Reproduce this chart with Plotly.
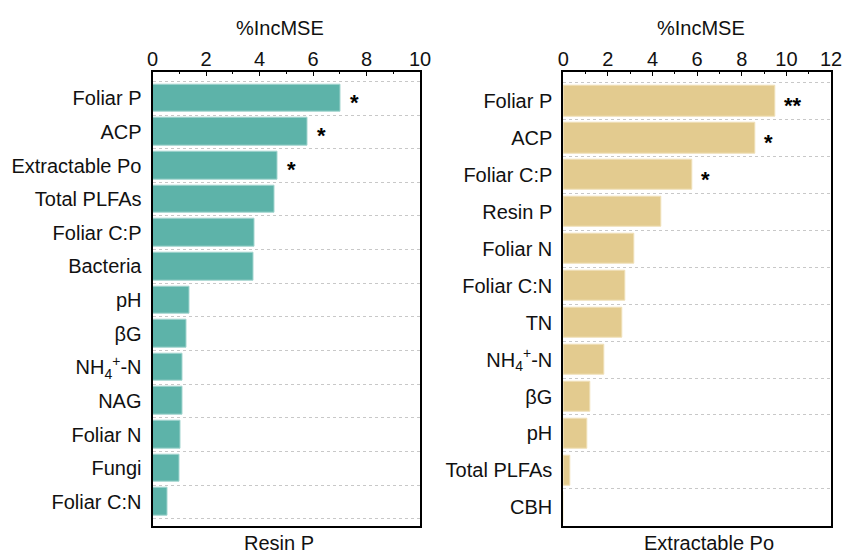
import plotly.graph_objects as go

# Variable importance (%IncMSE) from random forest models
resin_labels = ["Foliar P", "ACP", "Extractable Po", "Total PLFAs", "Foliar C:P",
                "Bacteria", "pH", "βG", "NH<sub>4</sub><sup>+</sup>-N", "NAG",
                "Foliar N", "Fungi", "Foliar C:N"]
resin_values = [7.04, 5.80, 4.69, 4.56, 3.83, 3.77, 1.37, 1.27, 1.12, 1.11, 1.06, 1.02, 0.55]
resin_sig = ["*", "*", "*", "", "", "", "", "", "", "", "", "", ""]

po_labels = ["Foliar P", "ACP", "Foliar C:P", "Resin P", "Foliar N", "Foliar C:N",
             "TN", "NH<sub>4</sub><sup>+</sup>-N", "βG", "pH", "Total PLFAs", "CBH"]
po_values = [9.50, 8.59, 5.78, 4.38, 3.18, 2.77, 2.65, 1.82, 1.21, 1.06, 0.31, 0.0]
po_sig = ["**", "*", "*", "", "", "", "", "", "", "", "", ""]

TEAL = "#5db3a9"
TEAL_EDGE = "#a3d5cf"
TAN = "#e3cb8f"
TAN_EDGE = "#f0e0b8"
FONT = "Liberation Sans, Arial, sans-serif"
FS = 20
W, H = 845, 553

fig = go.Figure()

panels = [
    dict(labels=resin_labels, values=resin_values, sig=resin_sig, color=TEAL, edge=TEAL_EDGE,
         xa="x", ya="y", xmax=10, yrange=[12.71, -0.79], name="Resin P",
         dom=[152.5, 420.0], title_x=280, name_x=279),
    dict(labels=po_labels, values=po_values, sig=po_sig, color=TAN, edge=TAN_EDGE,
         xa="x2", ya="y2", xmax=12, yrange=[11.5, -0.8], name="Extractable Po",
         dom=[563.3, 831.0], title_x=700.5, name_x=709),
]

annotations = []
top_px, bottom_px = 71.7, 525.7

for i, p in enumerate(panels):
    n = len(p["labels"])
    pos = list(range(n))
    fig.add_trace(go.Bar(
        x=p["values"], y=pos, orientation="h", width=0.82,
        marker=dict(color=p["color"], line=dict(color=p["edge"], width=1)),
        xaxis=p["xa"], yaxis=p["ya"], showlegend=False, hoverinfo="x+y",
    ))
    suffix = "" if i == 0 else "2"
    xdom = [p["dom"][0] / W, p["dom"][1] / W]
    ydom = [1 - bottom_px / H, 1 - top_px / H]
    fig.layout["xaxis" + suffix] = dict(
        domain=xdom, anchor="y" + suffix, side="top", range=[0, p["xmax"]],
        dtick=2, tick0=0, ticks="inside", ticklen=4, tickwidth=1.3, tickcolor="#000",
        minor=dict(dtick=1, ticks="inside", ticklen=2, tickwidth=1.3, tickcolor="#000"),
        showline=True, linecolor="#000", linewidth=2, mirror=True,
        showgrid=False, zeroline=False, automargin=False,
        tickfont=dict(family=FONT, size=FS, color="#111"), ticklabelstandoff=-4,
    )
    fig.layout["yaxis" + suffix] = dict(
        domain=ydom, anchor="x" + suffix, range=p["yrange"],
        tickvals=pos, ticktext=p["labels"], ticks="",
        minor=dict(tickvals=[k - 0.5 for k in range(n + 1)], showgrid=True,
                   gridcolor="#c8c8c8", griddash="dot", gridwidth=1, ticks=""),
        showline=True, linecolor="#000", linewidth=2, mirror=True,
        showgrid=False, zeroline=False, automargin=False,
        tickfont=dict(family=FONT, size=FS, color="#111"), ticklabelstandoff=5,
    )
    # significance markers next to bars
    for k, (v, s) in enumerate(zip(p["values"], p["sig"])):
        if s:
            annotations.append(dict(
                x=v, y=k, xref=p["xa"], yref=p["ya"], text=s, showarrow=False,
                xanchor="left", yanchor="middle", xshift=7, yshift=-4,
                font=dict(family=FONT, size=22, color="#000", weight="bold"),
            ))
    annotations.append(dict(
        x=p["title_x"] / W, y=1 - 27.5 / H, xref="paper", yref="paper", text="%IncMSE",
        showarrow=False, xanchor="center", yanchor="middle",
        font=dict(family=FONT, size=FS, color="#111"),
    ))
    annotations.append(dict(
        x=p["name_x"] / W, y=1 - 542.5 / H, xref="paper", yref="paper", text=p["name"],
        showarrow=False, xanchor="center", yanchor="middle",
        font=dict(family=FONT, size=FS, color="#111"),
    ))

fig.update_layout(
    width=W, height=H, margin=dict(l=0, r=0, t=0, b=0, autoexpand=False),
    paper_bgcolor="white", plot_bgcolor="white",
    annotations=annotations, bargap=0,
)

fig.write_html("out.html")
